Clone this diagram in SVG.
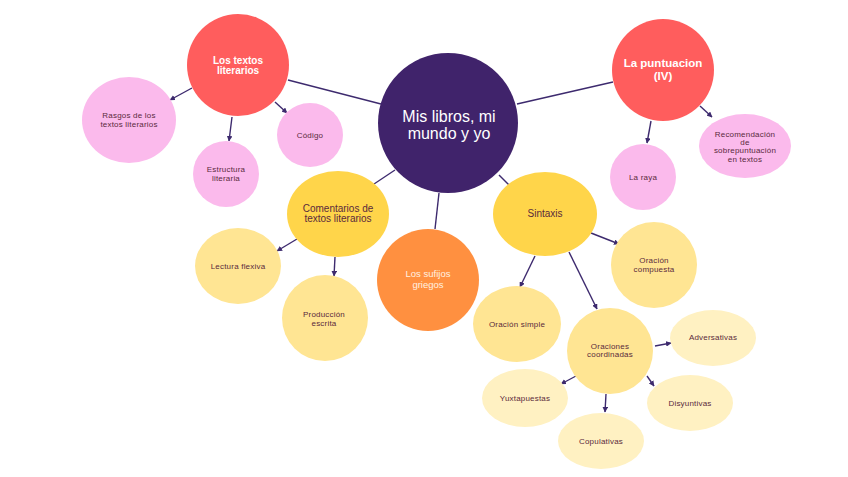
<svg xmlns="http://www.w3.org/2000/svg" width="848" height="477" viewBox="0 0 848 477">
<defs>
<marker id="ah" viewBox="0 0 10 10" refX="9" refY="5" markerWidth="4" markerHeight="4" orient="auto"><path d="M0,0 L10,5 L0,10 z" fill="#3d2a6e"/></marker>
<style>
.ln{stroke:#3d2a6e;stroke-width:1.4;fill:none}
.ar{stroke:#3d2a6e;stroke-width:1.4;fill:none;marker-end:url(#ah)}
text{font-family:"Liberation Sans",Arial,sans-serif;text-anchor:middle}
.s{font-size:8px;fill:#5a2a3c;letter-spacing:0.2px}
.m{font-size:10px;fill:#5a2a3c}
.w{font-size:10px;fill:#ffffff;font-weight:bold}
.red{fill:#ff5d5d}
.pink{fill:#fbbaec}
.yel{fill:#ffd54a}
.ly{fill:#ffe593}
.lly{fill:#fff1c2}
</style>
</defs>
<rect width="848" height="477" fill="#ffffff"/>
<g id="connectors">
<line class="ln" x1="288" y1="80" x2="381" y2="104"/>
<line class="ln" x1="517" y1="104" x2="613" y2="82"/>
<line class="ln" x1="395" y1="170" x2="374" y2="184"/>
<line class="ln" x1="499" y1="175" x2="509" y2="185"/>
<line class="ln" x1="439" y1="193" x2="435" y2="229"/>
<line class="ar" x1="192" y1="88" x2="170" y2="100"/>
<line class="ar" x1="232" y1="117" x2="229" y2="141"/>
<line class="ar" x1="275" y1="102" x2="287" y2="113"/>
<line class="ar" x1="651" y1="121" x2="647" y2="143"/>
<line class="ar" x1="700" y1="106" x2="712" y2="117"/>
<line class="ar" x1="297" y1="239" x2="277" y2="251"/>
<line class="ar" x1="335" y1="257" x2="334" y2="276"/>
<line class="ar" x1="591" y1="233" x2="619" y2="244"/>
<line class="ar" x1="535" y1="256" x2="520" y2="287"/>
<line class="ar" x1="569" y1="252" x2="597" y2="309"/>
<line class="ar" x1="655" y1="346" x2="671" y2="343"/>
<line class="ar" x1="576" y1="376" x2="561" y2="384"/>
<line class="ar" x1="606" y1="394" x2="605" y2="412"/>
<line class="ar" x1="647" y1="376" x2="654" y2="386"/>
</g>
<g id="central">
<circle cx="448" cy="123" r="70" fill="#40236b"/>
<text x="449" y="122" font-size="16" fill="#ffffff">Mis libros, mi</text>
<text x="449" y="139" font-size="16" fill="#ffffff">mundo y yo</text>
</g>
<g id="textos">
<circle class="red" cx="238" cy="65" r="51"/>
<text class="w" x="238" y="64">Los textos</text>
<text class="w" x="238" y="74">literarios</text>
</g>
<g id="rasgos">
<ellipse class="pink" cx="129" cy="120" rx="47" ry="43"/>
<text class="s" x="129" y="118">Rasgos de los</text>
<text class="s" x="129" y="127">textos literarios</text>
</g>
<g id="estructura">
<circle class="pink" cx="226" cy="174" r="33"/>
<text class="s" x="226" y="172">Estructura</text>
<text class="s" x="226" y="181">literaria</text>
</g>
<g id="codigo">
<ellipse class="pink" cx="310" cy="135" rx="33" ry="32"/>
<text class="s" x="310" y="138">Código</text>
</g>
<g id="puntuacion">
<circle class="red" cx="663" cy="70" r="51"/>
<text class="w" x="663" y="67" style="font-size:11.5px">La puntuacion</text>
<text class="w" x="663" y="80" style="font-size:11.5px">(IV)</text>
</g>
<g id="recomendacion">
<ellipse class="pink" cx="745" cy="146" rx="46" ry="32"/>
<text class="s" x="745" y="137">Recomendación</text>
<text class="s" x="745" y="145">de</text>
<text class="s" x="745" y="153">sobrepuntuación</text>
<text class="s" x="745" y="162">en textos</text>
</g>
<g id="raya">
<circle class="pink" cx="643" cy="177" r="33"/>
<text class="s" x="643" y="180">La raya</text>
</g>
<g id="comentarios">
<ellipse class="yel" cx="338" cy="214" rx="51" ry="43"/>
<text class="m" x="338" y="212">Comentarios de</text>
<text class="m" x="338" y="222">textos literarios</text>
</g>
<g id="lectura">
<ellipse class="ly" cx="238" cy="266" rx="43" ry="38"/>
<text class="s" x="238" y="269">Lectura flexiva</text>
</g>
<g id="produccion">
<circle class="ly" cx="325" cy="318" r="43"/>
<text class="s" x="324" y="317">Producción</text>
<text class="s" x="324" y="326">escrita</text>
</g>
<g id="sufijos">
<circle cx="428" cy="280" r="51" fill="#ff9040"/>
<text x="428" y="277" font-size="9.5" fill="#fff0e0">Los sufijos</text>
<text x="428" y="288" font-size="9.5" fill="#fff0e0">griegos</text>
</g>
<g id="sintaxis">
<ellipse class="yel" cx="545" cy="214" rx="52" ry="42"/>
<text class="m" x="545" y="217">Sintaxis</text>
</g>
<g id="compuesta">
<circle class="ly" cx="654" cy="265" r="43"/>
<text class="s" x="654" y="263">Oración</text>
<text class="s" x="654" y="272">compuesta</text>
</g>
<g id="simple">
<ellipse class="ly" cx="517" cy="324" rx="44" ry="38"/>
<text class="s" x="517" y="327">Oración simple</text>
</g>
<g id="coordinadas">
<circle class="ly" cx="610" cy="351" r="43"/>
<text class="s" x="610" y="349">Oraciones</text>
<text class="s" x="610" y="357">coordinadas</text>
</g>
<g id="adversativas">
<ellipse class="lly" cx="713" cy="338" rx="43" ry="28"/>
<text class="s" x="713" y="340">Adversativas</text>
</g>
<g id="disyuntivas">
<ellipse class="lly" cx="690" cy="403" rx="43" ry="28"/>
<text class="s" x="690" y="406">Disyuntivas</text>
</g>
<g id="copulativas">
<ellipse class="lly" cx="601" cy="441" rx="43" ry="28"/>
<text class="s" x="601" y="444">Copulativas</text>
</g>
<g id="yuxtapuestas">
<ellipse class="lly" cx="525" cy="398" rx="43" ry="29"/>
<text class="s" x="525" y="401">Yuxtapuestas</text>
</g>
</svg>
